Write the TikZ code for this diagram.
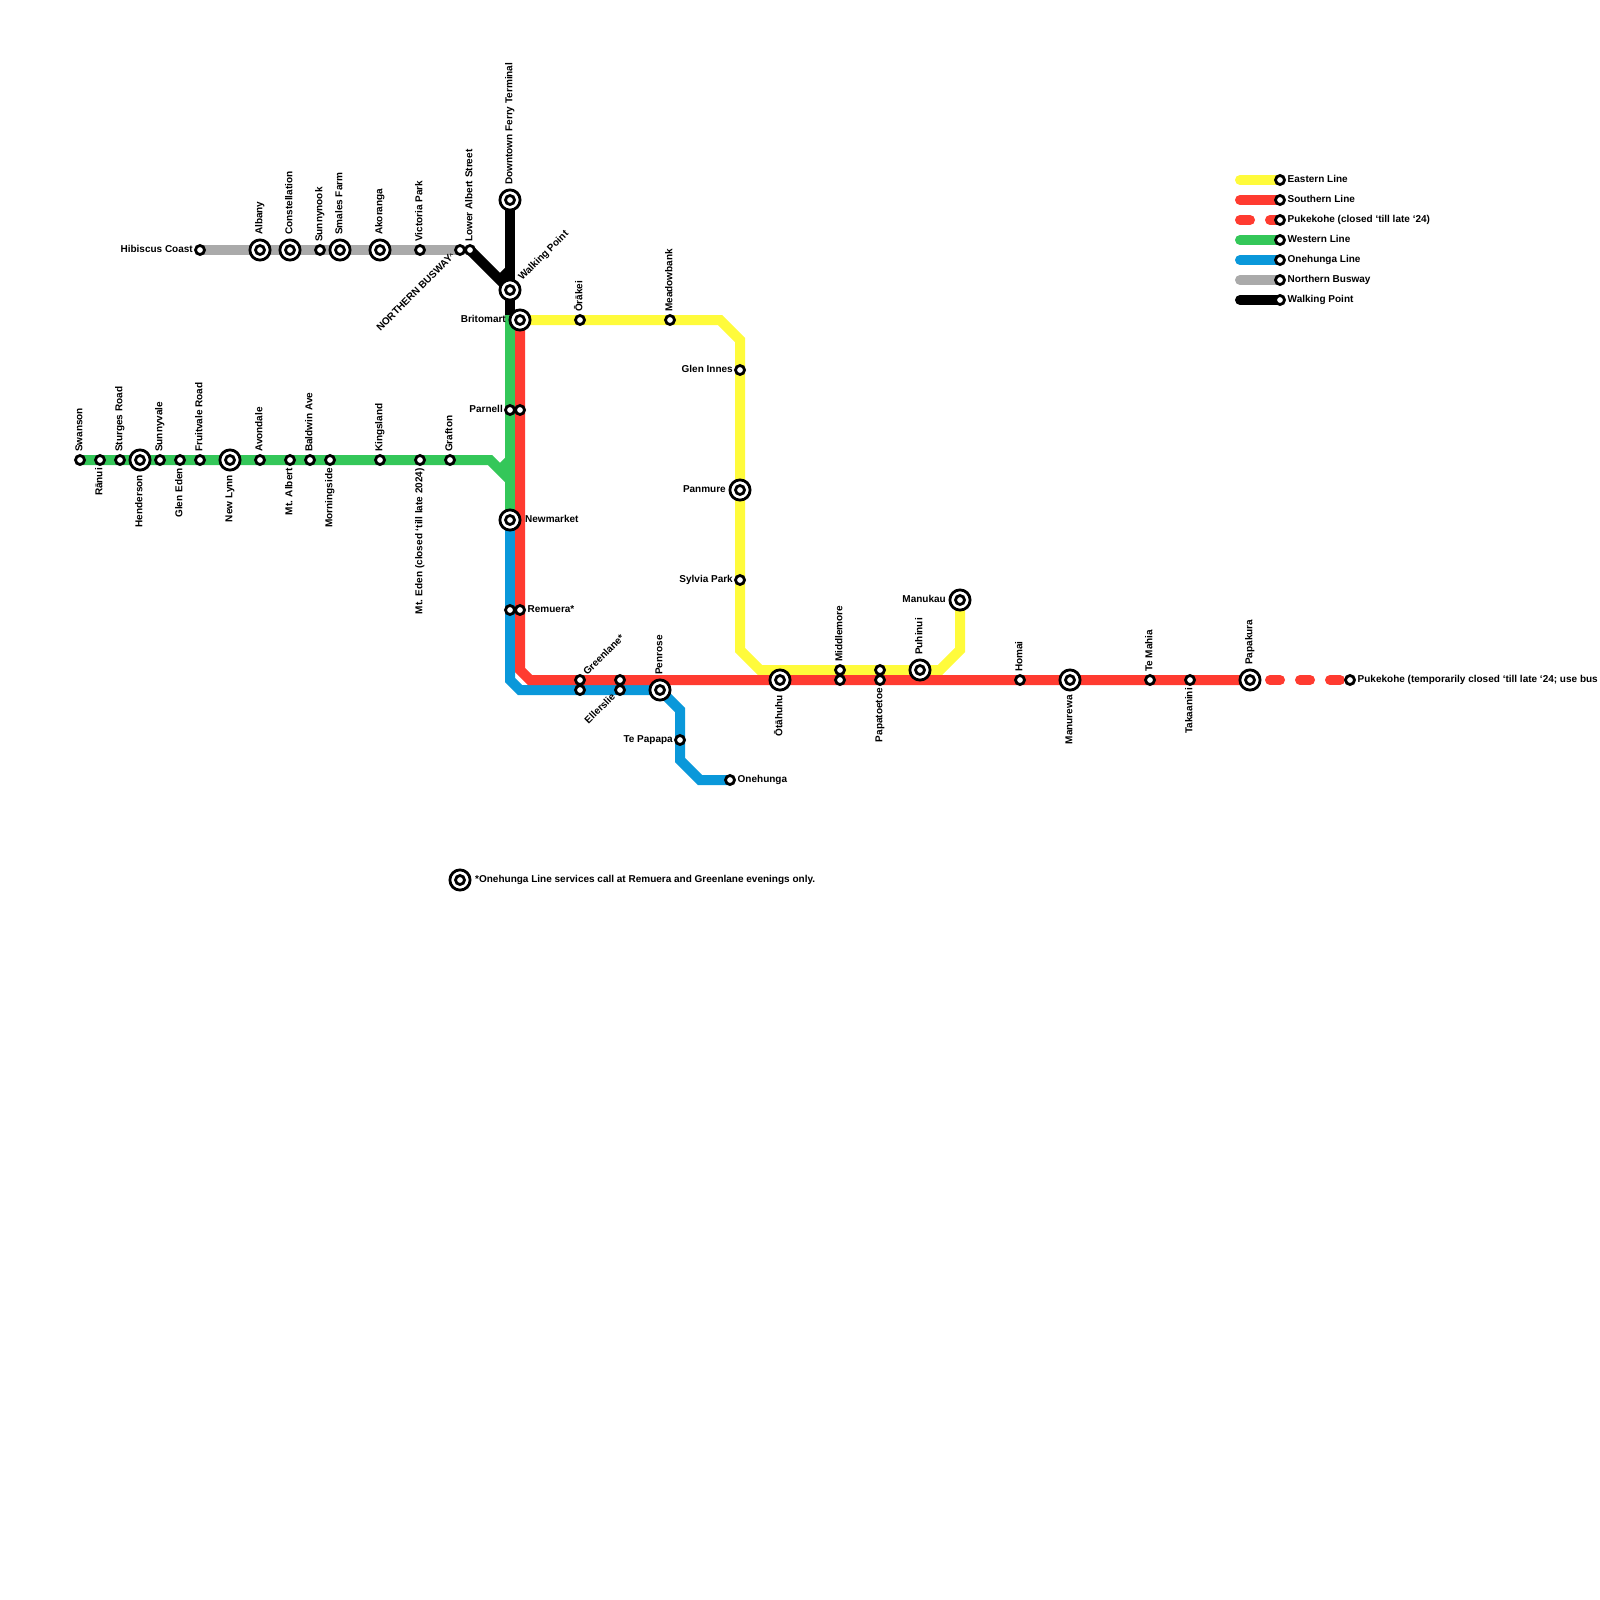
\documentclass[tikz,border=0pt]{standalone}
\usepackage{fontspec}
\setmainfont{Liberation Sans}
\usetikzlibrary{backgrounds}
\definecolor{EasternYellow}{HTML}{FFFB3B}
\definecolor{SouthernRed}{HTML}{FF3B30}
\definecolor{WesternGreen}{HTML}{34C759}
\definecolor{OnehungaBlue}{HTML}{0A98DA}
\definecolor{BuswayGray}{HTML}{AAAAAA}
\begin{document}
\begin{tikzpicture}[
  x=1pt, y=-1pt,
  stop/.style={circle, draw=black, fill=white, line width=2.8pt, minimum size=9pt, inner sep=0pt, outer sep=0pt},
  hub/.style={circle, draw=black, fill=white, line width=2.8pt, minimum size=20.2pt, inner sep=0pt, outer sep=0pt,
    path picture={\draw[black, line width=2.8pt] (path picture bounding box.center) circle (4.5pt);}},
  lab/.style={font=\fontsize{10}{12}\selectfont\bfseries, inner sep=0pt, text height=7.2pt, text depth=2.6pt, text=black},
  uplab/.style={lab, rotate=90, anchor=west},
  dnlab/.style={lab, rotate=90, anchor=east},
  ltlab/.style={lab, anchor=east},
  rtlab/.style={lab, anchor=west},
  nelab/.style={lab, rotate=45, anchor=west},
  swlab/.style={lab, rotate=45, anchor=east},
  track/.style={line width=10pt},
  keyline/.style={line width=10pt, line cap=round},
]
  \useasboundingbox (0,0) rectangle (1600,1600);
  \def\ga{8}    % gap stop to label
  \def\gb{15}   % gap hub to label
  \def\gc{7}    % same, labels on the left
  \def\gd{14}
  \def\ge{7.5}  % stop to label on the right

  % Stops, label above
  \foreach \n/\x/\y/\t in {swanson/80/460/Swanson, sturges/120/460/Sturges Road, sunnyvale/160/460/Sunnyvale,
    fruitvale/200/460/Fruitvale Road, avondale/260/460/Avondale, baldwin/310/460/Baldwin Ave,
    kingsland/380/460/Kingsland, grafton/450/460/Grafton, sunnynook/320/250/Sunnynook,
    victoria/420/250/Victoria Park, lowalbert/470/250/Lower Albert Street, orakei/580/320/Ōrākei,
    meadowbank/670/320/Meadowbank, middlemore/840/670/Middlemore, homai/1020/680/Homai,
    temahia/1150/680/Te Mahia} {
    \node[stop] (\n) at (\x,\y) {};
    \node[uplab] (\n-lab) at ([yshift=\ga pt]\n.center) {\t};
  }
  % Stops, label below
  \foreach \n/\x/\y/\t in {ranui/100/460/Rānui, gleneden/180/460/Glen Eden, mtalbert/290/460/Mt. Albert,
    morningside/330/460/Morningside, mteden/420/460/Mt. Eden (closed ‘till late 2024),
    papatoetoe/880/680/Papatoetoe, takaanini/1190/680/Takaanini} {
    \node[stop] (\n) at (\x,\y) {};
    \node[dnlab] (\n-lab) at ([yshift=-\ga pt]\n.center) {\t};
  }
  % Stops, label left
  \foreach \n/\x/\y/\t in {hibiscus/200/250/Hibiscus Coast, parnell/510/410/Parnell, tepapapa/680/740/Te Papapa,
    gleninnes/740/370/Glen Innes, sylvia/740/580/Sylvia Park} {
    \node[stop] (\n) at (\x,\y) {};
    \node[ltlab] (\n-lab) at ([xshift=-\gc pt]\n.center) {\t};
  }
  % Stops, label right
  \foreach \n/\x/\y/\t in {remuera/520/610/Remuera*, onehunga/730/780/Onehunga,
    pukekohe/1350/680/Pukekohe (temporarily closed ‘till late ‘24; use bus} {
    \node[stop] (\n) at (\x,\y) {};
    \node[rtlab] (\n-lab) at ([xshift=\ge pt]\n.center) {\t};
  }
  % Stops with no label of their own
  \foreach \n/\x/\y in {parnellb/520/410, remuerab/510/610, greenlaneb/580/690, ellersliea/620/680, papatoetoeb/880/670, middlemoreb/840/680} {
    \node[stop] (\n) at (\x,\y) {};
  }
  % Hubs, label above
  \foreach \n/\x/\y/\t in {albany/260/250/Albany, constellation/290/250/Constellation, smales/340/250/Smales Farm,
    akoranga/380/250/Akoranga, downtown/510/200/Downtown Ferry Terminal, penrose/660/690/Penrose,
    puhinui/920/670/Puhinui, papakura/1250/680/Papakura} {
    \node[hub] (\n) at (\x,\y) {};
    \node[uplab] (\n-lab) at ([yshift=\gb pt]\n.center) {\t};
  }
  % Hubs, label below
  \foreach \n/\x/\y/\t in {henderson/140/460/Henderson, newlynn/230/460/New Lynn, otahuhu/780/680/Ōtāhuhu,
    manurewa/1070/680/Manurewa} {
    \node[hub] (\n) at (\x,\y) {};
    \node[dnlab] (\n-lab) at ([yshift=-\gb pt]\n.center) {\t};
  }
  % Hubs, label left
  \foreach \n/\x/\y/\t in {britomart/520/320/Britomart, panmure/740/490/Panmure, manukau/960/600/Manukau} {
    \node[hub] (\n) at (\x,\y) {};
    \node[ltlab] (\n-lab) at ([xshift=-\gd pt]\n.center) {\t};
  }
  % Hubs, label right
  \foreach \n/\x/\y/\t in {newmarket/510/520/Newmarket, footnote/460/880/*Onehunga Line services call at Remuera and Greenlane evenings only.} {
    \node[hub] (\n) at (\x,\y) {};
    \node[rtlab] (\n-lab) at ([xshift=\gb pt]\n.center) {\t};
  }

  % Slanted labels
  \node[stop] (busway) at (460,250) {};
  \node[swlab] (busway-lab) at ([xshift=-6pt, yshift=-5pt]busway.center) {NORTHERN BUSWAY\raisebox{1.5pt}{\fontsize{6}{6}\selectfont\^{}}};
  \node[stop] (greenlane) at (580,680) {};
  \node[nelab] (greenlane-lab) at ([xshift=5.66pt, yshift=5.66pt]greenlane.center) {Greenlane*};
  \node[stop] (ellerslie) at (620,690) {};
  \node[swlab] (ellerslie-lab) at ([xshift=-5.66pt, yshift=-5.66pt]ellerslie.center) {Ellerslie};
  \node[hub] (walking) at (510,290) {};
  \node[nelab] (walking-lab) at ([xshift=10.6pt, yshift=10.6pt]walking.center) {Walking Point};

  % Bends of the lines
  \coordinate (wA) at (490,460);
  \coordinate (wB) at (510,480);
  \coordinate (wC) at (500,470);
  \coordinate (wD) at (510,460);
  \coordinate (wE) at (510,315);
  \coordinate (bA) at (500,280);
  \coordinate (bB) at (510,270);
  \coordinate (sA) at (520,670);
  \coordinate (sB) at (530,680);
  \coordinate (oA) at (510,680);
  \coordinate (oB) at (520,690);
  \coordinate (oC) at (680,710);
  \coordinate (oD) at (680,760);
  \coordinate (oE) at (700,780);
  \coordinate (eA) at (720,320);
  \coordinate (eB) at (740,340);
  \coordinate (eC) at (740,650);
  \coordinate (eD) at (760,670);
  \coordinate (eE) at (940,670);
  \coordinate (eF) at (960,650);

  \begin{scope}[on background layer]
    % Busway and walking links
    \draw[track, BuswayGray] (hibiscus.center) -- (busway.center);
    \draw[track, black] (lowalbert.center) -- (walking.center);
    \draw[track, black] (bA) -- (bB);
    \draw[track, black] (downtown.center) -- (wE);
    % Eastern
    \draw[track, EasternYellow] (britomart.center) -- (eA) -- (eB) -- (eC) -- (eD) -- (eE) -- (eF) -- (manukau.center);
    % Onehunga
    \draw[track, OnehungaBlue] (newmarket.center) -- (oA) -- (oB) -- (penrose.center) -- (oC) -- (oD) -- (oE) -- (onehunga.center);
    % Western
    \draw[track, WesternGreen] (swanson.center) -- (wA) -- (wB);
    \draw[track, WesternGreen] (wC) -- (wD);
    \draw[track, WesternGreen] (wE) -- (newmarket.center);
    % Southern
    \draw[track, SouthernRed] (britomart.center) -- (sA) -- (sB) -- (papakura.center);
    \draw[keyline, SouthernRed, dash pattern=on 10pt off 20pt, dash phase=10pt] (papakura.center) -- (pukekohe.center);
  \end{scope}

  % Key
  \foreach \n/\y/\c/\t in {keyE/180/EasternYellow/Eastern Line, keyS/200/SouthernRed/Southern Line,
    keyW/240/WesternGreen/Western Line, keyO/260/OnehungaBlue/Onehunga Line,
    keyN/280/BuswayGray/Northern Busway, keyP/300/black/Walking Point} {
    \coordinate (\n-a) at (1240,\y);
    \node[stop] (\n) at (1280,\y) {};
    \node[rtlab] (\n-lab) at ([xshift=\ge pt]\n.center) {\t};
    \begin{scope}[on background layer]
      \draw[keyline, \c] (\n-a) -- (\n.center);
    \end{scope}
  }
  \coordinate (keyK-a) at (1240,220);
  \node[stop] (keyK) at (1280,220) {};
  \node[rtlab] (keyK-lab) at ([xshift=\ge pt]keyK.center) {Pukekohe (closed ‘till late ‘24)};
  \begin{scope}[on background layer]
    \draw[keyline, SouthernRed, dash pattern=on 10pt off 20pt] (keyK-a) -- (keyK.center);
  \end{scope}
\end{tikzpicture}
\end{document}
